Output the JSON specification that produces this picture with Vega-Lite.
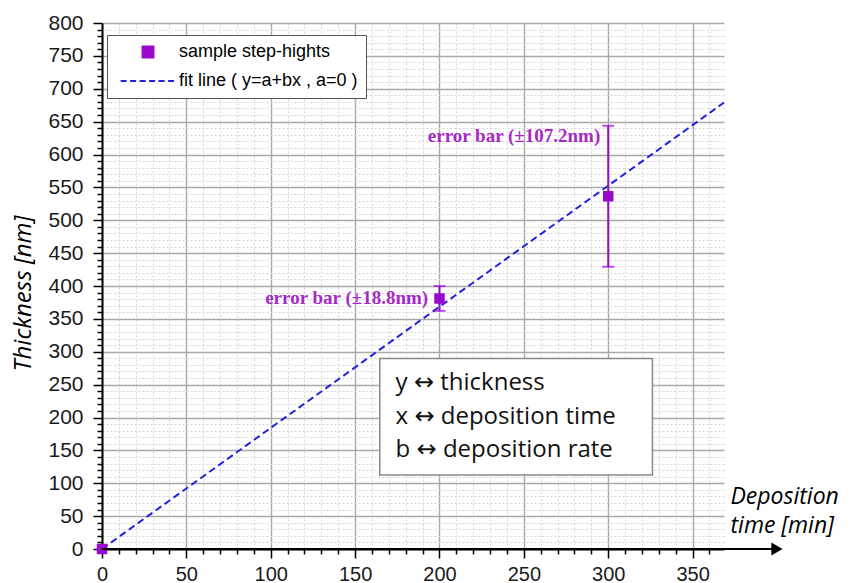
{
  "$schema": "https://vega.github.io/schema/vega-lite/v6.json",
  "width": 622,
  "height": 526,
  "autosize": {"type": "none"},
  "padding": {"left": 102, "top": 23, "right": 126, "bottom": 34},
  "background": "white",
  "config": {"view": {"stroke": null}},
  "datasets": {
    "points": [
      {"time": 0, "thickness": 0, "series": "sample step-hights"},
      {"time": 200, "thickness": 381, "series": "sample step-hights"},
      {"time": 300, "thickness": 536.5, "series": "sample step-hights"}
    ],
    "errors": [
      {"time": 200, "lo": 362.2, "hi": 399.8},
      {"time": 300, "lo": 429.3, "hi": 643.7}
    ],
    "fit": [
      {"time": 0, "thickness": 0, "series": "fit line ( y=a+bx , a=0 )"},
      {"time": 368.6, "thickness": 679, "series": "fit line ( y=a+bx , a=0 )"}
    ],
    "notes": [
      {"time": 198, "thickness": 381, "label": "error bar (±18.8nm)"},
      {"time": 300, "thickness": 628, "label": "error bar (±107.2nm)"}
    ],
    "one": [{}]
  },
  "layer": [
    {
      "data": {"name": "fit"},
      "mark": {"type": "line", "strokeWidth": 2, "strokeDash": [7, 4]},
      "encoding": {
        "x": {
          "field": "time", "type": "quantitative",
          "scale": {"domain": [0, 368.6], "nice": false, "zero": false},
          "axis": {
            "values": [0,10,20,30,40,50,60,70,80,90,100,110,120,130,140,150,160,170,180,190,200,210,220,230,240,250,260,270,280,290,300,310,320,330,340,350,360],
            "tickCount": 1000, "format": "d",
            "labelExpr": "datum.value % 50 === 0 ? datum.label : ''",
            "labelFont": "Liberation Sans", "labelFontSize": 20, "labelColor": "#1a1a1a",
            "labelPadding": 6, "labelOverlap": false, "labelFlush": false,
            "tickSize": {"condition": {"test": "datum.value % 50 === 0", "value": 9}, "value": 5},
            "tickColor": "black", "tickWidth": 1.5,
            "domainColor": "black", "domainWidth": 2,
            "grid": true,
            "gridColor": {"condition": {"test": "datum.value % 50 === 0", "value": "#a9a9a9"}, "value": "#d4d4d4"},
            "gridDash": {"condition": {"test": "datum.value % 50 === 0", "value": []}, "value": [2, 2]},
            "gridWidth": {"condition": {"test": "datum.value % 50 === 0", "value": 1.4}, "value": 1},
            "title": ["Deposition", "time [min]"],
            "titleFont": "Open Sans", "titleFontSize": 23, "titleFontStyle": "italic", "titleFontWeight": "normal", "titleColor": "black",
            "titleAlign": "left", "titleBaseline": "alphabetic", "titleX": 628, "titleY": -46, "titleLineHeight": 29
          }
        },
        "y": {
          "field": "thickness", "type": "quantitative",
          "scale": {"domain": [0, 800], "nice": false, "zero": false},
          "axis": {
            "values": [0,10,20,30,40,50,60,70,80,90,100,110,120,130,140,150,160,170,180,190,200,210,220,230,240,250,260,270,280,290,300,310,320,330,340,350,360,370,380,390,400,410,420,430,440,450,460,470,480,490,500,510,520,530,540,550,560,570,580,590,600,610,620,630,640,650,660,670,680,690,700,710,720,730,740,750,760,770,780,790,800],
            "tickCount": 1000, "format": "d",
            "labelExpr": "datum.value % 50 === 0 ? datum.label : ''",
            "labelFont": "Liberation Sans", "labelFontSize": 21, "labelColor": "#1a1a1a",
            "labelPadding": 10, "labelOverlap": false, "labelFlush": false,
            "tickSize": {"condition": {"test": "datum.value % 50 === 0", "value": 9}, "value": 5},
            "tickColor": "black", "tickWidth": 1.5,
            "domainColor": "black", "domainWidth": 2,
            "grid": true,
            "gridColor": {"condition": {"test": "datum.value % 50 === 0", "value": "#a9a9a9"}, "value": "#d4d4d4"},
            "gridDash": {"condition": {"test": "datum.value % 50 === 0", "value": []}, "value": [2, 2]},
            "gridWidth": {"condition": {"test": "datum.value % 50 === 0", "value": 1.4}, "value": 1},
            "title": "Thickness [nm]",
            "titleFont": "Open Sans", "titleFontSize": 24, "titleFontStyle": "italic", "titleFontWeight": "normal", "titleColor": "black",
            "titleAngle": -90, "titleAlign": "center", "titleBaseline": "middle", "titleX": -79, "titleY": 270
          }
        },
        "color": {
          "field": "series", "type": "nominal",
          "scale": {"domain": ["sample step-hights", "fit line ( y=a+bx , a=0 )"], "range": ["#9a0acb", "#2222dd"]},
          "legend": {
            "title": null, "orient": "none", "legendX": 5, "legendY": 12,
            "padding": 8, "rowPadding": 10, "symbolOffset": 24, "labelOffset": 22, "labelLimit": 400,
            "symbolSize": 120, "labelFont": "Liberation Sans", "labelFontSize": 18, "labelColor": "black",
            "strokeColor": "#555555", "fillColor": "white",
            "encode": {
              "symbols": {
                "update": {
                  "shape": {"signal": "datum.value === 'sample step-hights' ? 'square' : 'M-5,0H5'"},
                  "size": {"value": 120},
                  "fill": {"signal": "datum.value === 'sample step-hights' ? '#9a0acb' : 'transparent'"},
                  "stroke": {"signal": "datum.value === 'sample step-hights' ? 'transparent' : '#2222dd'"},
                  "strokeWidth": {"value": 2},
                  "strokeDash": {"signal": "datum.value === 'sample step-hights' ? [1, 0] : [6, 3.5]"},
                  "opacity": {"value": 1}
                }
              }
            }
          }
        }
      }
    },
    {
      "data": {"name": "errors"},
      "mark": {"type": "rule", "color": "#9a0acb", "strokeWidth": 2},
      "encoding": {
        "x": {"field": "time", "type": "quantitative"},
        "y": {"field": "lo", "type": "quantitative"},
        "y2": {"field": "hi"}
      }
    },
    {
      "data": {"name": "errors"},
      "mark": {"type": "tick", "color": "#9a0acb", "size": 12, "thickness": 2, "orient": "horizontal"},
      "encoding": {
        "x": {"field": "time", "type": "quantitative"},
        "y": {"field": "lo", "type": "quantitative"}
      }
    },
    {
      "data": {"name": "errors"},
      "mark": {"type": "tick", "color": "#9a0acb", "size": 12, "thickness": 2, "orient": "horizontal"},
      "encoding": {
        "x": {"field": "time", "type": "quantitative"},
        "y": {"field": "hi", "type": "quantitative"}
      }
    },
    {
      "data": {"name": "points"},
      "mark": {"type": "point", "shape": "square", "filled": true, "size": 110, "opacity": 1},
      "encoding": {
        "x": {"field": "time", "type": "quantitative"},
        "y": {"field": "thickness", "type": "quantitative"},
        "color": {"field": "series", "type": "nominal"}
      }
    },
    {
      "data": {"name": "notes"},
      "mark": {"type": "text", "align": "right", "baseline": "middle", "dx": -8, "font": "Liberation Serif", "fontWeight": "bold", "fontSize": 19, "color": "#a52ac5"},
      "encoding": {
        "x": {"field": "time", "type": "quantitative"},
        "y": {"field": "thickness", "type": "quantitative"},
        "text": {"field": "label"}
      }
    },
    {
      "data": {"name": "one"},
      "mark": {"type": "rect", "fill": "white", "stroke": "#888888", "strokeWidth": 1.5},
      "encoding": {
        "x": {"datum": 164.6, "type": "quantitative"},
        "x2": {"datum": 326.2},
        "y": {"datum": 289.8, "type": "quantitative"},
        "y2": {"datum": 112.5}
      }
    },
    {
      "data": {"name": "one"},
      "mark": {"type": "text", "align": "left", "baseline": "middle", "font": "'Open Sans', 'DejaVu Sans'", "fontSize": 24, "lineHeight": 33.3, "color": "#111111"},
      "encoding": {
        "x": {"datum": 174, "type": "quantitative"},
        "y": {"datum": 252, "type": "quantitative"},
        "text": {"value": ["y ↔ thickness", "x ↔ deposition time", "b ↔ deposition rate"]}
      }
    },
    {
      "data": {"name": "one"},
      "mark": {"type": "rule", "color": "black", "strokeWidth": 2},
      "encoding": {
        "x": {"datum": 0, "type": "quantitative"},
        "x2": {"datum": 397},
        "y": {"datum": 0, "type": "quantitative"}
      }
    },
    {
      "data": {"name": "one"},
      "mark": {"type": "point", "shape": "triangle-right", "filled": true, "color": "black", "size": 170, "opacity": 1},
      "encoding": {
        "x": {"datum": 400, "type": "quantitative"},
        "y": {"datum": 0, "type": "quantitative"}
      }
    }
  ]
}
